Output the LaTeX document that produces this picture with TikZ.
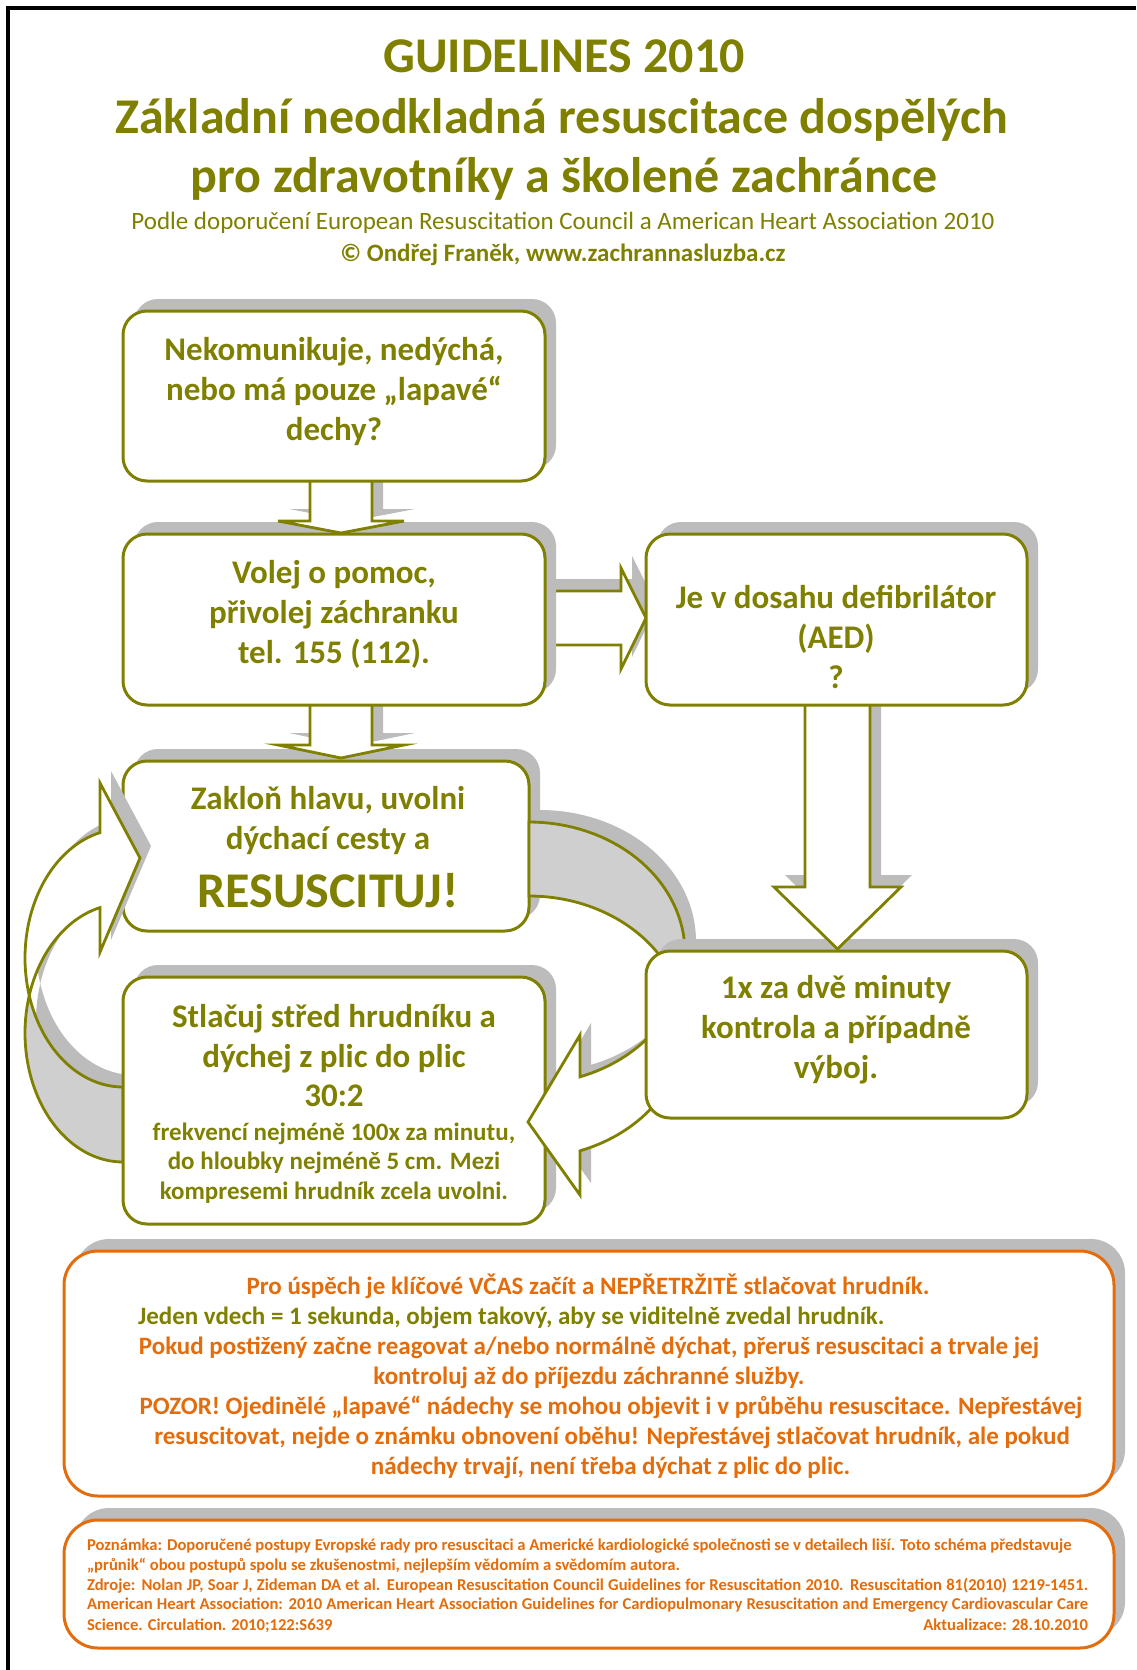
\documentclass[tikz,border=0pt]{standalone}
\usepackage{fontspec}
\setmainfont{Carlito}
\usetikzlibrary{shadows}
\definecolor{olv}{RGB}{128,128,0}
\definecolor{org}{RGB}{228,108,10}
\definecolor{shd}{RGB}{188,188,188}
\definecolor{bandgray}{RGB}{207,207,207}
\newcommand{\bst}{\rule[-0.334em]{0pt}{1.134em}}
\begin{document}
\begin{tikzpicture}[x=1pt,y=-1pt,
  every node/.style={inner sep=0pt,outer sep=0pt},
  shadowed/.style={drop shadow={shadow xshift=11pt,shadow yshift=12pt,fill=shd,opacity=1}},
  box/.style={draw=olv,line width=3pt,fill=white,rounded corners=24pt,shadowed},
  obox/.style={draw=org,line width=3pt,fill=white,rounded corners=34pt,shadowed},
  blk/.style={draw=olv,line width=2.8pt,fill=white,line join=miter,shadowed},
  curv/.style={draw=olv,line width=2.8pt,line join=miter},
  ttl/.style={font=\fontsize{50}{60}\selectfont\bfseries,text=olv,anchor=base},
  sub/.style={font=\fontsize{25}{30}\selectfont,text=olv,anchor=base},
  subb/.style={font=\fontsize{25}{30}\selectfont\bfseries,text=olv,anchor=base},
  btxt/.style={font=\fontsize{33}{40}\selectfont\bfseries,text=olv,align=center},
  bline/.style={font=\fontsize{33}{40}\selectfont\bfseries,text=olv,anchor=base},
  sline/.style={font=\fontsize{25}{30}\selectfont\bfseries,text=olv,anchor=base},
  oline/.style={font=\fontsize{25}{30}\selectfont\bfseries,text=org,anchor=base},
  fline/.style={font=\fontsize{16.6}{20}\selectfont\bfseries,text=org,anchor=base west},
  % left curved arrow (compressions -> airway): two equal ellipses shifted vertically
  lafront/.style={insert path={(100,832.6)
     -- plot[domain=256.4:163.1,samples=40] ({123+98*cos(\x)},{958+129*sin(\x)})
     -- plot[domain=196.9:256.4,samples=30] ({123+98*cos(\x)},{1033+129*sin(\x)})
     -- (100,952) -- (140,858) -- (100,783) -- cycle}},
  laback/.style={insert path={plot[domain=196.9:90,samples=40] ({123+98*cos(\x)},{1033+129*sin(\x)})
     -- plot[domain=90:163.1,samples=30] ({123+98*cos(\x)},{958+129*sin(\x)}) -- cycle}},
  % right curved arrow (airway -> check -> compressions)
  raback/.style={insert path={plot[domain=-90:16.4,samples=40] ({529+156*cos(\x)},{953+131*sin(\x)})
     -- plot[domain=-16.4:-90,samples=40] ({529+156*cos(\x)},{1027+131*sin(\x)}) -- cycle}},
  rafront/.style={insert path={plot[domain=-16.4:70.9,samples=40] ({529+156*cos(\x)},{1027+131*sin(\x)})
     -- (580,1195) -- (528,1122) -- (580,1035)
     -- plot[domain=70.9:16.4,samples=30] ({529+156*cos(\x)},{953+131*sin(\x)}) -- cycle}},
]
\useasboundingbox (0,0) rectangle (1136,1670);
\fill[white] (0,0) rectangle (1136,1670);
\draw[line width=3.5pt] (1136,8) -- (8,8) -- (8,1670);

% heading
\node[ttl] (h1) at (564,72) {GUIDELINES 2010};
\node[ttl] (h2) at (562,133) {Základní neodkladná resuscitace dospělých};
\node[ttl] (h3) at (564,192) {pro zdravotníky a školené zachránce};
\node[sub] (h4) at (563,229) {Podle doporučení European Resuscitation Council a American Heart Association 2010};
\node[subb] (h5) at (563,261) {© Ondřej Franěk, www.zachrannasluzba.cz};

% airway box, then the left loop arrow over it
\node[box,minimum width=406pt,minimum height=170pt] (b4) at (326,846) {};
\begin{scope}[shift={(11,-12)}]
  \fill[shd,lafront]; \fill[shd,laback];
\end{scope}
\path[curv,fill=bandgray,laback];
\path[curv,fill=white,lafront];

% compressions box, then the right loop arrow
\node[box,minimum width=422pt,minimum height=247pt] (b6) at (334,1100.5) {};
\begin{scope}[shift={(11,-12)}]
  \fill[shd,raback]; \fill[shd,rafront];
\end{scope}
\path[curv,fill=bandgray,raback];
\path[curv,fill=white,rafront];

% check box
\node[box,minimum width=381pt,minimum height=167pt] (b5) at (836.5,1034.5) {};

% block arrows
\path[blk] (805,695) -- (805,887) -- (774,887) -- (837.5,949) -- (901,887) -- (870,887) -- (870,695) -- cycle;
\path[blk] (535,591) -- (621,591) -- (621,568) -- (646,618) -- (621,669) -- (621,645) -- (535,645) -- cycle;
\path[blk] (310,695) -- (310,745) -- (278,745) -- (341,758) -- (404,745) -- (372,745) -- (372,695) -- cycle;

\node[box,minimum width=381pt,minimum height=171pt] (b3) at (836.5,619.5) {};
\node[box,minimum width=422pt,minimum height=171pt] (b2) at (334,619.5) {};
\path[blk] (310,470) -- (310,521) -- (278,521) -- (341,533) -- (404,521) -- (372,521) -- (372,470) -- cycle;
\node[box,minimum width=422pt,minimum height=170pt] (b1) at (334,396) {};

% box texts
\node[btxt] (t1) at (334,393) {\bst Nekomunikuje, nedýchá,\\\bst nebo má pouze „lapavé“\\\bst dechy?};
\node[btxt] (t2) at (334,615.5) {\bst Volej o pomoc,\\\bst přivolej záchranku\\\bst tel. 155 (112).};
\node[btxt] (t3) at (836,640.5) {\bst Je v dosahu defibrilátor\\\bst (AED)\\\bst ?};
\node[btxt] (t5) at (836,1030.5) {\bst 1x za dvě minuty\\\bst kontrola a případně\\\bst výboj.};

\node[bline] (t4a) at (328,809) {Zakloň hlavu, uvolni};
\node[bline] (t4b) at (328,849.5) {dýchací cesty a};
\node[bline,font=\fontsize{50}{60}\selectfont\bfseries] (t4c) at (328,907) {RESUSCITUJ!};

\node[bline] (t6a) at (334,1027) {Stlačuj střed hrudníku a};
\node[bline] (t6b) at (334,1067) {dýchej z plic do plic};
\node[bline] (t6c) at (334,1106) {30:2};
\node[sline] (t6d) at (334,1140) {frekvencí nejméně 100x za minutu,};
\node[sline] (t6e) at (334,1169) {do hloubky nejméně 5 cm. Mezi};
\node[sline] (t6f) at (334,1199) {kompresemi hrudník zcela uvolni.};

% notes
\node[obox,minimum width=1050pt,minimum height=245pt] (o1) at (589,1373.5) {};
\node[oline] (n1) at (588,1294) {Pro úspěch je klíčové VČAS začít a NEPŘETRŽITĚ stlačovat hrudník.};
\node[oline,text=olv,anchor=base west] (n2) at (138,1324) {Jeden vdech = 1 sekunda, objem takový, aby se viditelně zvedal hrudník.};
\node[oline] (n3) at (589,1354.5) {Pokud postižený začne reagovat a/nebo normálně dýchat, přeruš resuscitaci a trvale jej};
\node[oline] (n4) at (589,1384.5) {kontroluj až do příjezdu záchranné služby.};
\node[oline] (n5) at (611,1414.5) {POZOR! Ojedinělé „lapavé“ nádechy se mohou objevit i v průběhu resuscitace. Nepřestávej};
\node[oline] (n6) at (612,1444) {resuscitovat, nejde o známku obnovení oběhu! Nepřestávej stlačovat hrudník, ale pokud};
\node[oline] (n7) at (610.5,1474.5) {nádechy trvají, není třeba dýchat z plic do plic.};

\node[obox,minimum width=1050pt,minimum height=128pt] (o2) at (589,1584) {};
\node[fline] (f1) at (87,1550.5) {Poznámka: Doporučené postupy Evropské rady pro resuscitaci a Americké kardiologické společnosti se v detailech liší. Toto schéma představuje};
\node[fline] (f2) at (87,1570.5) {„průnik“ obou postupů spolu se zkušenostmi, nejlepším vědomím a svědomím autora.};
\node[fline] (f3) at (87,1590.5) {\makebox[1001pt][s]{Zdroje: Nolan JP, Soar J, Zideman DA et al. European Resuscitation Council Guidelines for Resuscitation 2010. Resuscitation 81(2010) 1219-1451.}};
\node[fline] (f4) at (87,1609.5) {\makebox[1001pt][s]{American Heart Association: 2010 American Heart Association Guidelines for Cardiopulmonary Resuscitation and Emergency Cardiovascular Care}};
\node[fline] (f5) at (87,1630.5) {\makebox[1001pt]{Science. Circulation. 2010;122:S639\hfill Aktualizace: 28.10.2010}};
\end{tikzpicture}
\end{document}
